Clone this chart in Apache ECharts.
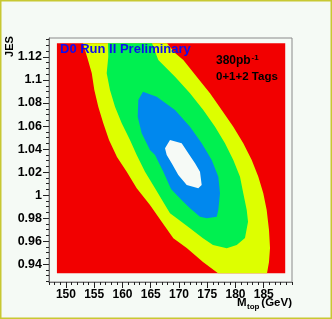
<!DOCTYPE html>
<html><head><meta charset="utf-8">
<script src="https://cdn.jsdelivr.net/npm/echarts@6/dist/echarts.min.js"></script>
<style>html,body{margin:0;padding:0;background:#f5faf5}#c{width:332px;height:319px}</style>
</head><body><div id="c"></div>
<script>
// Axis ranges and tick labels
const xAxisRange = [147, 190];
const yAxisRange = [0.9245, 1.1365];
const xTicks = [150, 155, 160, 165, 170, 175, 180, 185];
const yTicks = [0.94, 0.96, 0.98, 1, 1.02, 1.04, 1.06, 1.08, 1.1, 1.12];

// Histogram extent (red area) [M_top, JES]
const histMtop = [148.4, 188.8];
const histJes = [0.932, 1.132];

// Contour boundaries, [M_top (GeV), JES]
const contourYellow = [
  [153.02,1.132],[167.88,1.132],[169.30,1.1235],[170.77,1.1174],[173.14,1.1029],[175.49,1.0885],
  [177.56,1.0739],[179.61,1.0594],[181.38,1.0450],[182.87,1.0305],[184.04,1.0160],[184.92,1.0016],
  [185.52,0.9871],[185.93,0.9697],[186.11,0.9541],[185.93,0.9419],[185.58,0.932],
  [176.91,0.932],[174.25,0.9419],[171.37,0.9541],[169.00,0.9625],[166.94,0.9769],[164.87,0.9914],
  [162.52,1.0059],[160.75,1.0203],[159.03,1.0331],[157.62,1.0479],[156.61,1.0624],[155.72,1.0768],
  [155.02,1.0913],[154.56,1.1061],[153.90,1.1174]
];
const contourGreen = [
  [157.44,1.132],[165.23,1.132],[166.34,1.1174],[169.30,1.1029],[171.95,1.0885],[174.30,1.0739],
  [176.38,1.0594],[178.14,1.0450],[179.61,1.0305],[180.80,1.0160],[181.38,1.0016],[181.99,0.9871],
  [182.22,0.9769],[181.68,0.9627],[180.22,0.9567],[178.45,0.9538],[176.02,0.9567],[174.25,0.9625],
  [171.95,0.9712],[169.60,0.9799],[168.41,0.9842],[167.53,0.9914],[165.76,1.0059],[163.99,1.0203],
  [162.52,1.0349],[161.33,1.0479],[159.87,1.0624],[158.68,1.0768],[157.79,1.0913],[157.21,1.1058],
  [157.49,1.1203]
];
const contourBlue = [
  [163.63,1.0898],[166.06,1.0855],[169.30,1.0739],[171.95,1.0594],[174.02,1.0450],[175.79,1.0305],
  [176.96,1.0160],[177.26,1.0016],[176.96,0.9871],[176.68,0.9812],[174.91,0.9799],[173.72,0.9812],
  [171.95,0.9885],[170.77,0.9943],[169.60,1.0001],[168.59,1.0053],[167.23,1.0203],[165.76,1.0349],
  [164.87,1.0392],[163.40,1.0537],[162.70,1.0681],[162.80,1.0826]
];
const contourWhite = [
  [167.53,1.0407],[168.41,1.0479],[170.48,1.0450],[171.65,1.0363],[172.84,1.0276],[173.72,1.0203],
  [174.02,1.0088],[173.42,1.0059],[171.37,1.0088],[169.88,1.0175],[168.71,1.0276],[167.83,1.0349]
];

const FONT = '"Liberation Sans", Arial, Helvetica, sans-serif';

function polySeries(pts, color, z) {
  return {
    type: 'custom', silent: true, z: z, clip: true,
    data: pts, encode: {x: 0, y: 1},
    renderItem: function (params, api) {
      if (params.dataIndex !== 0) return null;
      return {type: 'polygon', shape: {points: pts.map(p => api.coord(p))},
              style: {fill: color}};
    }
  };
}

const xMinor = [];
for (let v = xAxisRange[0]; v <= xAxisRange[1]; v += 1) xMinor.push(v);
const yMinor = [];
for (let k = 0; k <= 42; k++) yMinor.push(Math.round((0.925 + 0.005 * k) * 1000) / 1000);

const redRect = [[histMtop[0], histJes[0]], [histMtop[1], histJes[0]],
                 [histMtop[1], histJes[1]], [histMtop[0], histJes[1]]];

const chart = echarts.init(document.getElementById('c'), null, {renderer: 'canvas'});
chart.setOption({
  backgroundColor: '#f5faf5',
  animation: false,
  grid: {left: 49, right: 40, top: 38, bottom: 37, show: true,
         borderColor: '#8a8a8a', borderWidth: 1, backgroundColor: 'transparent'},
  xAxis: [{
    type: 'value', min: xAxisRange[0], max: xAxisRange[1], position: 'bottom',
    axisLine: {show: true, lineStyle: {color: '#707070', width: 1}},
    axisTick: {show: true, customValues: xTicks, length: 6, inside: false, lineStyle: {color: '#222'}},
    axisLabel: {customValues: xTicks, margin: 7, color: '#000',
                fontFamily: FONT, fontWeight: 'bold', fontSize: 12},
    splitLine: {show: false}
  }, {
    type: 'value', min: xAxisRange[0], max: xAxisRange[1], position: 'bottom', offset: 0,
    axisLine: {show: false},
    axisTick: {show: true, customValues: xMinor, length: 3, inside: false, lineStyle: {color: '#222'}},
    axisLabel: {show: false}, splitLine: {show: false}
  }],
  yAxis: [{
    type: 'value', min: yAxisRange[0], max: yAxisRange[1], position: 'left',
    axisLine: {show: true, lineStyle: {color: '#707070', width: 1}},
    axisTick: {show: true, customValues: yTicks, length: 6, inside: false, lineStyle: {color: '#222'}},
    axisLabel: {customValues: yTicks, margin: 7, color: '#000',
                fontFamily: FONT, fontWeight: 'bold', fontSize: 12.5},
    splitLine: {show: false}
  }, {
    type: 'value', min: yAxisRange[0], max: yAxisRange[1], position: 'left', offset: 0,
    axisLine: {show: false},
    axisTick: {show: true, customValues: yMinor, length: 3, inside: false, lineStyle: {color: '#222'}},
    axisLabel: {show: false}, splitLine: {show: false}
  }],
  series: [
    polySeries(redRect, '#f20000', 1),
    polySeries(contourYellow, '#ddff00', 2),
    polySeries(contourGreen, '#00f050', 3),
    polySeries(contourBlue, '#0088ee', 4),
    polySeries(contourWhite, '#f6faf6', 5)
  ],
  graphic: [
    {type: 'rect', shape: {x: 0.75, y: 0.75, width: 330.5, height: 317.5}, z: 100,
     style: {fill: 'none', stroke: '#c8c832', lineWidth: 1.5}},
    {type: 'text', x: 60, y: 49.5, z: 100,
     style: {text: 'D0 Run II Preliminary', font: 'bold 13px ' + FONT, fill: '#0c0cf0',
             textAlign: 'left', textVerticalAlign: 'middle'}},
    {type: 'text', x: 216, y: 61, z: 100,
     style: {text: '380pb', font: 'bold 12px ' + FONT, fill: '#000',
             textAlign: 'left', textVerticalAlign: 'middle'}},
    {type: 'text', x: 251.5, y: 57.5, z: 100,
     style: {text: '-1', font: 'bold 8px ' + FONT, fill: '#000',
             textAlign: 'left', textVerticalAlign: 'middle'}},
    {type: 'text', x: 216, y: 76.5, z: 100,
     style: {text: '0+1+2 Tags', font: 'bold 11.5px ' + FONT, fill: '#000',
             textAlign: 'left', textVerticalAlign: 'middle'}},
    {type: 'text', x: 237, y: 303, z: 100,
     style: {text: 'M', font: 'bold 11.5px ' + FONT, fill: '#000',
             textAlign: 'left', textVerticalAlign: 'middle'}},
    {type: 'text', x: 247, y: 307, z: 100,
     style: {text: 'top', font: 'bold 8px ' + FONT, fill: '#000',
             textAlign: 'left', textVerticalAlign: 'middle'}},
    {type: 'text', x: 292, y: 303, z: 100,
     style: {text: '(GeV)', font: 'bold 11.5px ' + FONT, fill: '#000',
             textAlign: 'right', textVerticalAlign: 'middle'}},
    {type: 'text', x: 9.5, y: 46.5, rotation: Math.PI / 2, z: 100,
     style: {text: 'JES', font: 'bold 11px ' + FONT, fill: '#000',
             textAlign: 'center', textVerticalAlign: 'middle'}}
  ]
});
</script></body></html>
